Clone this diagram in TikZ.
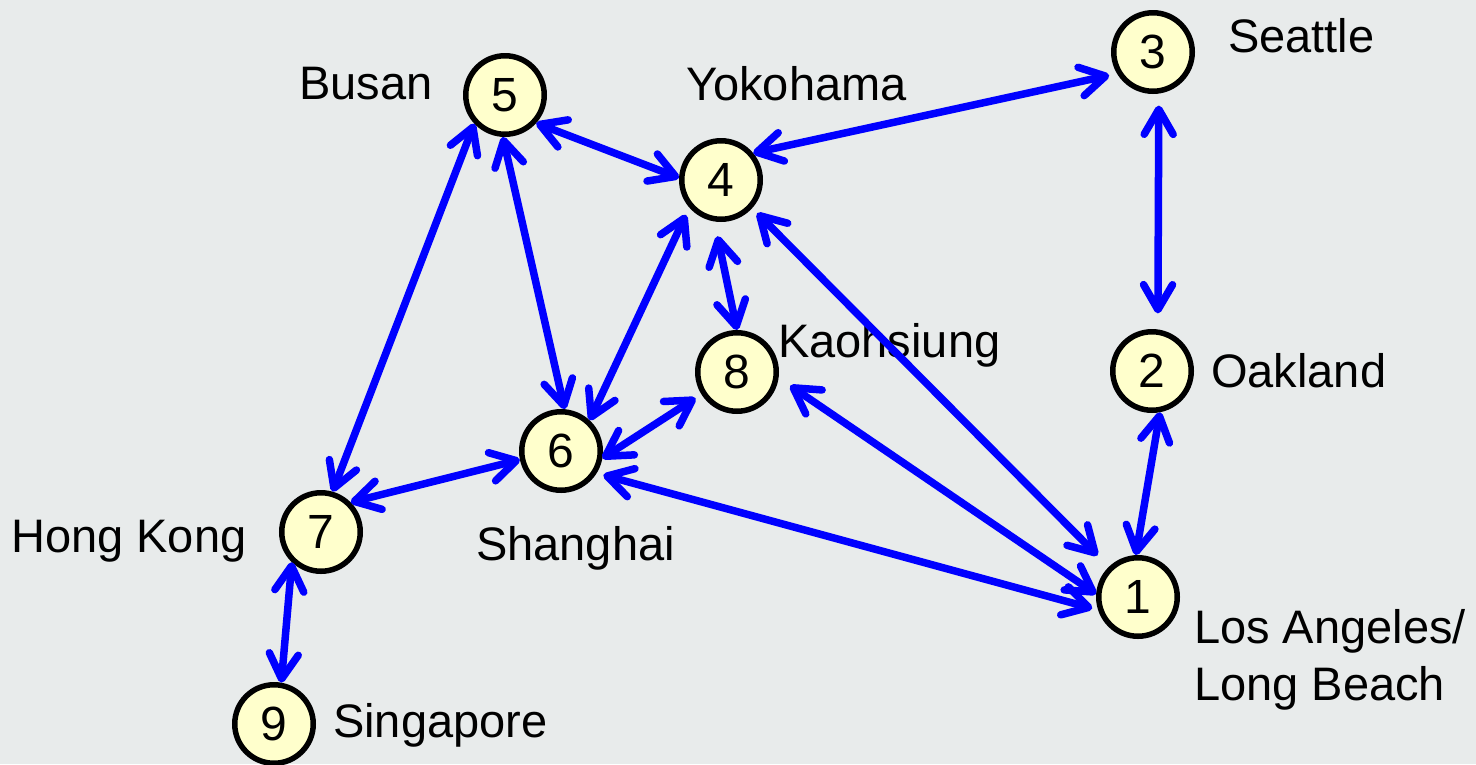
\documentclass[tikz,border=0pt]{standalone}
\usepackage{fontspec}
\setmainfont{Liberation Sans}
\usetikzlibrary{arrows.meta}
\definecolor{bg}{RGB}{232,235,235}
\definecolor{nodefill}{RGB}{255,255,204}
\definecolor{edgeblue}{RGB}{0,0,255}
\begin{document}
\begin{tikzpicture}[x=1pt,y=-1pt,
  port/.style={circle,draw=black,line width=5.5pt,fill=nodefill,minimum size=78.5pt,inner sep=0pt,font=\fontsize{48}{56}\selectfont},
  lbl/.style={anchor=base west,inner sep=0pt,font=\fontsize{47}{57}\selectfont},
  link/.style={draw=edgeblue,line width=7.5pt,<->,>={Straight Barb[round,length=25pt,width=29pt]}}]
\fill[bg] (0,0) rectangle (1476,764);
\useasboundingbox (0,0) rectangle (1476,764);

\node[port] (n1) at (1138,597) {1};
\node[port] (n2) at (1152,371) {2};
\node[port] (n3) at (1153,52) {3};
\node[port] (n4) at (721,180) {4};
\node[port] (n5) at (505,95) {5};
\node[port] (n6) at (561,451) {6};
\node[port] (n7) at (321,532) {7};
\node[port] (n8) at (737,372) {8};
\node[port] (n9) at (274,724) {9};

\node[lbl] (l3) at (1228,52) {Seattle};
\node[lbl] (l5) at (299,99) {Busan};
\node[lbl] (l4) at (686,100) {Yokohama};
\node[lbl] (l8) at (778,357) {Kaohsiung};
\node[lbl] (l2) at (1211,387) {Oakland};
\node[lbl] (l7) at (11,552) {Hong Kong};
\node[lbl] (l6) at (476,560) {Shanghai};
\node[lbl] (l1) at (1194,643) {\begin{tabular}[t]{@{}l@{}}Los Angeles/\\Long Beach\end{tabular}};
\node[lbl] (l9) at (333,737) {Singapore};

\draw[link,shorten <=8pt] (n3.211) -- (n4.40);
\draw[link,shorten <=12pt,shorten >=16pt] (n3.-82) -- (n2.82);
\draw[link] (n2.-79) -- (n1.93);
\draw[link] (n5.-42) -- (n4.177);
\draw[link] (n5.223) -- (n7.74);
\draw[link] (n5.-93) -- (n6.85);
\draw[link,shorten <=8pt] (n4.221) -- (n6.47);
\draw[link,shorten <=15pt] (n4.-99) -- (n8.90);
\draw[link,shorten <=7pt,shorten >=16pt] (n4.-42) -- (n1.134);
\draw[link,shorten <=14pt] (n8.-8) -- (n1.176);
\draw[link,shorten <=7pt,shorten >=6pt] (n6.-32) -- (n1.198);
\draw[link,shorten <=7pt] (n8.212) -- (n6.-10);
\draw[link] (n6.192) -- (n7.45);
\draw[link] (n7.226) -- (n9.80);
\end{tikzpicture}
\end{document}
